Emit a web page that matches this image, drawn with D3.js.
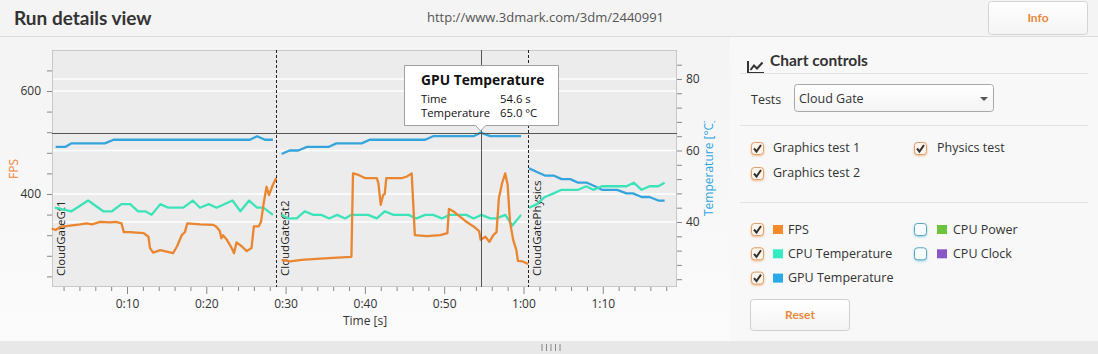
<!DOCTYPE html>
<html><head><meta charset="utf-8">
<script src="https://cdn.jsdelivr.net/npm/d3@7"></script>
<style>
html,body{margin:0;padding:0;background:#f6f6f6;overflow:hidden}
svg{display:block;font-family:"Open Sans",sans-serif}
</style></head><body>
<svg id="c" width="1098" height="354"></svg>
<script>
// ---------- data ----------
const testNames = ["CloudGateGt1", "CloudGateGt2", "CloudGatePhysics"];
const testStarts = [0.54, 28.8, 60.6];

const fpsTime = [0.5,1.0,1.6,2.6,4.1,4.9,5.6,6.6,7.9,8.6,9.3,9.6,10.4,11.2,12.1,12.7,12.9,13.3,14.2,15.0,15.8,16.3,16.9,17.3,17.6,19.2,20.9,21.3,21.7,21.9,22.1,22.6,23.2,23.5,23.8,24.5,25.1,25.7,26.0,26.6,26.9,27.2,27.6,27.9,28.4,28.8,
  null,
  29.5,30.6,32.0,33.9,36.0,38.3,38.5,39.2,40.0,40.2,41.5,41.7,42.0,42.3,42.5,42.7,43.6,44.7,45.3,45.9,46.3,47.8,49.5,50.4,50.6,51.1,52.0,52.8,53.7,54.4,54.6,55.2,55.7,56.2,56.6,56.9,57.3,57.7,58.0,58.3,58.7,59.1,59.3,59.9,60.6];
const fpsValue = [333,330,336,338,341,343,341,346,345,346,343,326,326,325,324,317,295,286,291,288,285,298,320,326,343,341,340,336,328,314,320,311,295,285,306,298,289,295,337,337,346,379,414,398,418,431,
  null,
  272,269,272,274,276,278,440,437,431,431,431,421,379,398,400,431,431,431,434,440,320,318,320,324,371,367,356,346,337,328,311,317,307,320,326,392,421,440,418,346,311,291,270,269,264];

const cpuTempTime = [0.9,3.0,5.1,7.0,8.1,9.3,10.4,11.4,12.3,13.1,14.2,15.2,17.1,18.3,19.2,20.3,21.3,23.3,24.3,25.4,26.4,27.2,28.4,
  null,
  29.5,30.3,31.4,32.4,33.5,34.5,35.5,36.5,37.5,38.3,40.4,41.5,42.5,43.6,45.5,46.5,47.6,48.6,49.7,50.7,51.7,52.8,53.7,54.7,55.8,56.6,57.7,58.6,59.7,
  null,
  60.7,61.7,62.7,63.8,64.8,65.9,66.9,67.9,68.8,69.9,71.8,73.0,73.9,74.9,75.9,77.0,77.8];
const cpuTempValue = [44,43,46,43,43,45,45,43,43,42,45,44,44,46,44,45,44,46,43,46,44,44,42,
  null,
  42,41,41,43,42,42,41,42,41,42,42,41,43,42,42,41,42,42,41,42,42,42,41,42,41,41,42,39,42,
  null,
  44,45,47,48,49,49,49,50,49,50,50,50,51,49,50,50,51];

const gpuTempTime = [1.0,2.2,3.0,7.2,8.3,25.5,26.4,27.4,28.4,
  null,
  29.5,30.5,31.6,32.7,35.4,36.4,39.6,40.6,47.6,48.6,53.7,54.6,55.8,59.7,
  null,
  60.7,61.7,62.7,63.8,64.8,65.9,66.9,68.0,69.0,69.9,70.7,71.8,73.0,73.8,74.9,75.9,77.0,77.8];
const gpuTempValue = [61,61,62,62,63,63,64,63,63,
  null,
  59,60,60,61,61,62,62,63,63,64,64,65,64,64,
  null,
  55,54,53,53,52,52,51,51,50,49,49,49,48,48,47,47,46,46];

const xTickMajor = [10,20,30,40,50,60,70];
const fpsTicks = [240,280,320,360,400,440,480,520,560,600,640];
const fpsLabels = [400,600];
const tempTicks = [24,28,32,36,40,44,48,52,56,60,64,68,72,76,80,84];
const tempLabels = [40,60,80];

const tooltipTitle = "GPU Temperature";
const tooltipRows = [["Time","54.6 s"],["Temperature","65.0 °C"]];
const tooltipPoint = {t: 54.6, v: 65.0};

const seriesLegend = [["FPS","#f58a2a",true],["CPU Temperature","#35ecc2",true],["GPU Temperature","#27a9ea",true]];
const seriesLegend2 = [["CPU Power","#6cc43c",false],["CPU Clock","#8a55c4",false]];
const testChecks = [["Graphics test 1",true],["Graphics test 2",true]];
const testChecks2 = [["Physics test",true]];

// ---------- layout ----------
const svg = d3.select("#c");
const L = 52, R = 677, T = 50, B = 287;

const defs = svg.append("defs");
const g1 = defs.append("linearGradient").attr("id","panelBg").attr("x1",0).attr("x2",0).attr("y1",0).attr("y2",1);
g1.append("stop").attr("offset","0%").attr("stop-color","#f3f3f3");
g1.append("stop").attr("offset","100%").attr("stop-color","#fbfbfb");
const g2 = defs.append("linearGradient").attr("id","btnBg").attr("x1",0).attr("x2",0).attr("y1",0).attr("y2",1);
g2.append("stop").attr("offset","0%").attr("stop-color","#ffffff");
g2.append("stop").attr("offset","100%").attr("stop-color","#f4f4f4");
const fo = defs.append("filter").attr("id","glowO").attr("x","-50%").attr("y","-50%").attr("width","200%").attr("height","200%");
fo.append("feDropShadow").attr("dx",0).attr("dy",1).attr("stdDeviation",1.3).attr("flood-color","#f0a060").attr("flood-opacity",0.7);
const fb = defs.append("filter").attr("id","glowB").attr("x","-50%").attr("y","-50%").attr("width","200%").attr("height","200%");
fb.append("feDropShadow").attr("dx",0).attr("dy",1).attr("stdDeviation",1.3).attr("flood-color","#60c0e0").attr("flood-opacity",0.7);
defs.append("clipPath").attr("id","tempClip").append("rect").attr("x",690).attr("y",121).attr("width",40).attr("height",200);

// backgrounds
svg.append("rect").attr("width",1098).attr("height",354).attr("fill","url(#panelBg)");
svg.append("rect").attr("width",1098).attr("height",36).attr("fill","#f4f4f4");
svg.append("line").attr("x1",0).attr("x2",1098).attr("y1",36.5).attr("y2",36.5).attr("stroke","#dcdcdc");
svg.append("rect").attr("x",730).attr("y",37).attr("width",368).attr("height",304).attr("fill","#f8f8f8");
svg.append("rect").attr("x",0).attr("y",341).attr("width",1098).attr("height",13).attr("fill","#e8e8e8");
d3.range(5).forEach(i => svg.append("line").attr("x1",542+i*4.5).attr("x2",542+i*4.5).attr("y1",344).attr("y2",351).attr("stroke","#888"));

// header
svg.append("text").attr("x",14).attr("y",25).attr("font-family","Lato").attr("font-weight","bold").attr("font-size",19).attr("fill","#333").text("Run details view");
svg.append("text").attr("x",427).attr("y",22).attr("font-size",13).attr("fill","#555").text("http://www.3dmark.com/3dm/2440991");
svg.append("rect").attr("x",988.5).attr("y",1.5).attr("width",99).attr("height",33).attr("rx",3).attr("fill","url(#btnBg)").attr("stroke","#d4d4d4");
svg.append("text").attr("x",1038).attr("y",22).attr("text-anchor","middle").attr("font-family","Lato").attr("font-weight","bold").attr("font-size",12).attr("fill","#e8883a").text("Info");

// scales
const x = d3.scaleLinear().domain([0.54, 79.36]).range([L, R]);
const yF = d3.scaleLinear().domain([219.4, 679.6]).range([B, T]);
const yT = d3.scaleLinear().domain([21.82, 88.11]).range([B, T]);

// plot background
svg.append("rect").attr("x",L).attr("y",T).attr("width",R-L).attr("height",B-T).attr("fill","#ececec");

// gridlines
const grid = svg.append("g");
fpsLabels.forEach(v => grid.append("line").attr("x1",L).attr("x2",R).attr("y1",yF(v)).attr("y2",yF(v)).attr("stroke","#fff").attr("stroke-width",1.5));
tempLabels.forEach(v => grid.append("line").attr("x1",L).attr("x2",R).attr("y1",yT(v)).attr("y2",yT(v)).attr("stroke","#fff").attr("stroke-width",1.5));

// plot border
svg.append("rect").attr("x",L+0.5).attr("y",T+0.5).attr("width",R-L-1).attr("height",B-T-1).attr("fill","none").attr("stroke","#c8c8c8");

// axes
function styleAxis(g){ g.select(".domain").remove(); g.selectAll(".tick line").attr("stroke","#888"); g.selectAll("text").attr("fill","#333").attr("font-size",12).attr("font-family","Open Sans"); }
const minorX = d3.range(2, 80, 2).filter(v => !xTickMajor.includes(v));
svg.append("g").attr("transform",`translate(0,${B})`).call(d3.axisBottom(x).tickValues(minorX).tickSize(4).tickFormat("")).call(styleAxis);
svg.append("g").attr("transform",`translate(0,${B})`).call(d3.axisBottom(x).tickValues(xTickMajor).tickSize(7).tickPadding(5)
  .tickFormat(d => Math.floor(d/60) + ":" + String(d%60).padStart(2,"0"))).call(styleAxis);
svg.append("g").attr("transform",`translate(${L},0)`).call(d3.axisLeft(yF).tickValues(fpsTicks).tickSize(5).tickPadding(6)
  .tickFormat(d => fpsLabels.includes(d) ? d : "")).call(styleAxis);
svg.append("g").attr("transform",`translate(${R},0)`).call(d3.axisRight(yT).tickValues(tempTicks).tickSize(5).tickPadding(4)
  .tickFormat(d => tempLabels.includes(d) ? d : "")).call(styleAxis);

// axis titles
svg.append("text").attr("transform","translate(18,169) rotate(-90)").attr("text-anchor","middle").attr("font-size",12).attr("fill","#f0883a").text("FPS");
svg.append("g").attr("clip-path","url(#tempClip)").append("text").attr("transform","translate(713,216) rotate(-90)").attr("font-size",12).attr("fill","#2ea6de").text("Temperature [°C]");
svg.append("text").attr("x",365).attr("y",325).attr("text-anchor","middle").attr("font-size",12).attr("fill","#333").text("Time [s]");

// test separators and labels
testStarts.forEach((t,i) => {
  if (i > 0) svg.append("line").attr("x1",Math.round(x(t))+0.5).attr("x2",Math.round(x(t))+0.5).attr("y1",T).attr("y2",B)
    .attr("stroke","#222").attr("stroke-dasharray","3,2");
  svg.append("text").attr("transform",`translate(${x(t)+12.5},276) rotate(-90)`).attr("font-size",11.5).attr("fill","#222").text(testNames[i]);
});

// lines
function drawSeries(ts, vs, yScale, color){
  const pts = ts.map((t,i) => ({t, v: vs[i]}));
  const line = d3.line().defined(d => d.t != null && d.v != null).x(d => x(d.t)).y(d => yScale(d.v));
  svg.append("path").datum(pts).attr("d", line).attr("fill","none").attr("stroke",color).attr("stroke-width",2.3).attr("stroke-linejoin","round");
}
drawSeries(gpuTempTime, gpuTempValue, yT, "#36a4dc");
drawSeries(cpuTempTime, cpuTempValue, yT, "#3de3b8");
drawSeries(fpsTime, fpsValue, yF, "#ea8530");

// crosshair
const cx = x(tooltipPoint.t), cy = yT(tooltipPoint.v);
svg.append("line").attr("x1",Math.round(cx)+0.5).attr("x2",Math.round(cx)+0.5).attr("y1",T).attr("y2",B).attr("stroke","#555");
svg.append("line").attr("x1",L).attr("x2",R).attr("y1",Math.round(cy)+0.5).attr("y2",Math.round(cy)+0.5).attr("stroke","#555");

// tooltip
const tt = svg.append("g");
tt.append("path").attr("d",`M404.5,65.5 H558.5 V125.5 H${cx+5} L${cx},131 L${cx-5},125.5 H404.5 Z`).attr("fill","#fff").attr("stroke","#a0a0a0");
tt.append("text").attr("x",421).attr("y",85).attr("font-weight","bold").attr("font-size",13.8).attr("fill","#111").text(tooltipTitle);
tooltipRows.forEach((r,i) => {
  tt.append("text").attr("x",421).attr("y",103+i*13.5).attr("font-size",11.3).attr("fill","#111").text(r[0]);
  tt.append("text").attr("x",500).attr("y",103+i*13.5).attr("font-size",11.3).attr("fill","#111").text(r[1]);
});

// ---------- right panel ----------
const P = svg.append("g").attr("font-family","Open Sans");
// chart icon
P.append("path").attr("d","M748,61 V73 H764").attr("fill","none").attr("stroke","#333").attr("stroke-width",2);
P.append("path").attr("d","M750.5,70 L754,65.5 L757,68.5 L762.5,62.5").attr("fill","none").attr("stroke","#333").attr("stroke-width",2);
P.append("text").attr("x",770).attr("y",66).attr("font-family","Lato").attr("font-weight","bold").attr("font-size",15.5).attr("fill","#333").text("Chart controls");
P.append("line").attr("x1",740).attr("x2",1088).attr("y1",73.5).attr("y2",73.5).attr("stroke","#e2e2e2");
P.append("text").attr("x",751).attr("y",104).attr("font-size",12.5).attr("fill","#333").text("Tests");
P.append("rect").attr("x",794.5).attr("y",84.5).attr("width",199).attr("height",27).attr("rx",3).attr("fill","url(#btnBg)").attr("stroke","#a8a8a8");
P.append("text").attr("x",799).attr("y",103).attr("font-size",12.5).attr("fill","#333").text("Cloud Gate");
P.append("path").attr("d","M980,97 H988 L984,101 Z").attr("fill","#555");
P.append("line").attr("x1",740).attr("x2",1088).attr("y1",125.5).attr("y2",125.5).attr("stroke","#e2e2e2");
P.append("line").attr("x1",740).attr("x2",1088).attr("y1",202.5).attr("y2",202.5).attr("stroke","#e2e2e2");

function checkbox(xp, yp, checked){
  const c = P.append("g");
  c.append("rect").attr("x",xp+0.5).attr("y",yp+0.5).attr("width",12).attr("height",12).attr("rx",3)
    .attr("fill", checked ? "#fdf5ec" : "#f8fbfc").attr("stroke", checked ? "#d9a070" : "#5aa8be")
    .attr("filter", checked ? "url(#glowO)" : "url(#glowB)");
  if (checked) c.append("path").attr("d",`M${xp+3},${yp+6.5} L${xp+5.5},${yp+9.5} L${xp+10},${yp+3}`).attr("fill","none").attr("stroke","#333").attr("stroke-width",2);
}
testChecks.forEach((d,i) => { checkbox(751, 142+i*25, d[1]); P.append("text").attr("x",773).attr("y",152+i*24.5).attr("font-size",12.5).attr("fill","#333").text(d[0]); });
testChecks2.forEach((d,i) => { checkbox(914, 142+i*25, d[1]); P.append("text").attr("x",937).attr("y",152+i*24.5).attr("font-size",12.5).attr("fill","#333").text(d[0]); });
seriesLegend.forEach((d,i) => {
  const yy = 223 + i*24.3;
  checkbox(751, yy, d[2]);
  P.append("rect").attr("x",773).attr("y",yy+2).attr("width",10).attr("height",9).attr("fill",d[1]);
  P.append("text").attr("x",788).attr("y",yy+10.5).attr("font-size",12.5).attr("fill","#333").text(d[0]);
});
seriesLegend2.forEach((d,i) => {
  const yy = 223 + i*24.3;
  checkbox(914, yy, d[2]);
  P.append("rect").attr("x",937).attr("y",yy+2).attr("width",10).attr("height",9).attr("fill",d[1]);
  P.append("text").attr("x",953).attr("y",yy+10.5).attr("font-size",12.5).attr("fill","#333").text(d[0]);
});
P.append("rect").attr("x",750.5).attr("y",299.5).attr("width",99).attr("height",31).attr("rx",3).attr("fill","url(#btnBg)").attr("stroke","#cfcfcf");
P.append("text").attr("x",800).attr("y",319).attr("text-anchor","middle").attr("font-family","Lato").attr("font-weight","bold").attr("font-size",12).attr("fill","#e8883a").text("Reset");
</script>
</body></html>
